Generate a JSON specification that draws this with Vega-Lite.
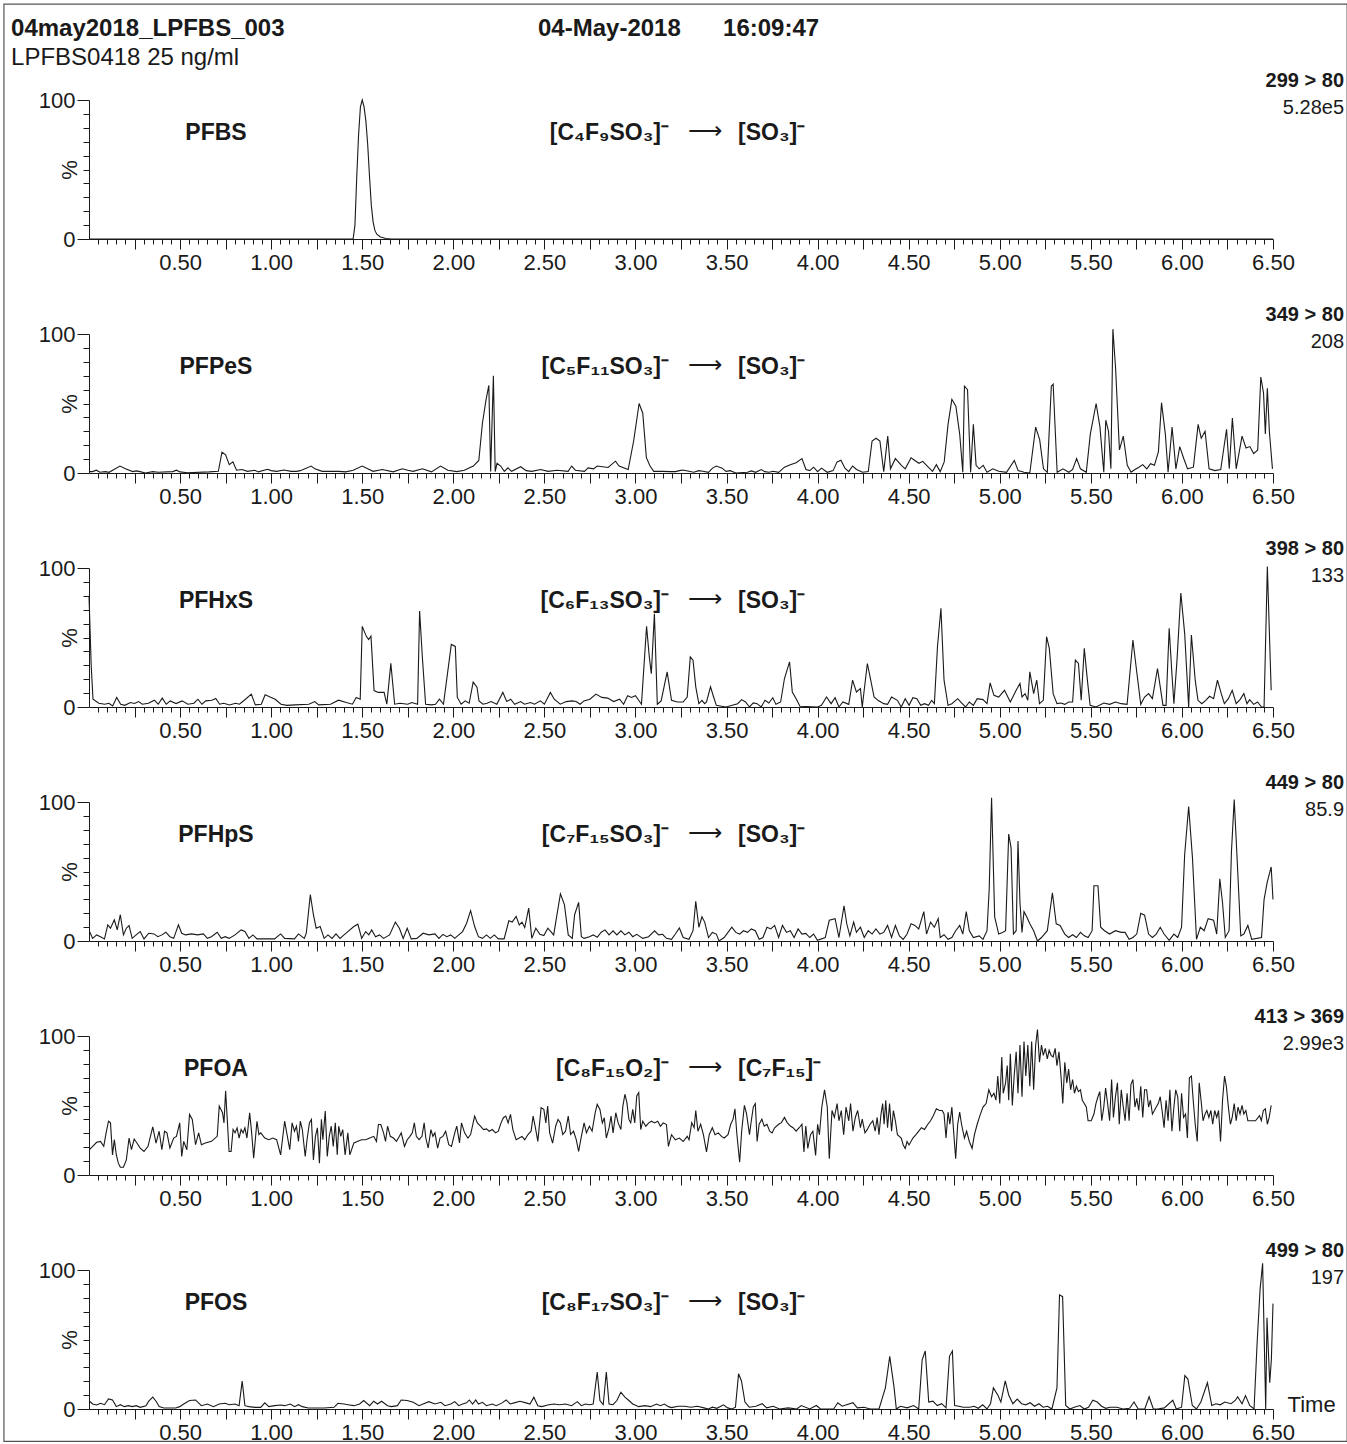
{
"$schema":"https://vega.github.io/schema/vega-lite/v6.json",
"padding":{"left":3,"top":3,"right":0,"bottom":0},
"background":"white",
"config":{"view":{"stroke":null},"axis":{"labelFont":"Liberation Sans","titleFont":"Liberation Sans"}},
"datasets":{"d":[
{"p":1,"name":"PFBS","formula":"[C₄F₉SO₃]⁻","product":"[SO₃]⁻","transition":"299 > 80","intensity":"5.28e5","hdr1":"04may2018_LPFBS_003","hdr2":"04-May-2018","hdr3":"16:09:47","hdr4":"LPFBS0418 25 ng/ml","border":1},
{"p":2,"name":"PFPeS","formula":"[C₅F₁₁SO₃]⁻","product":"[SO₃]⁻","transition":"349 > 80","intensity":"208"},
{"p":3,"name":"PFHxS","formula":"[C₆F₁₃SO₃]⁻","product":"[SO₃]⁻","transition":"398 > 80","intensity":"133"},
{"p":4,"name":"PFHpS","formula":"[C₇F₁₅SO₃]⁻","product":"[SO₃]⁻","transition":"449 > 80","intensity":"85.9"},
{"p":5,"name":"PFOA","formula":"[C₈F₁₅O₂]⁻","product":"[C₇F₁₅]⁻","transition":"413 > 369","intensity":"2.99e3"},
{"p":6,"name":"PFOS","formula":"[C₈F₁₇SO₃]⁻","product":"[SO₃]⁻","transition":"499 > 80","intensity":"197","xlab":"Time"},
{"p":1,"t":0,"v":0},{"p":1,"t":1.45,"v":0},{"p":1,"t":1.46,"v":10},{"p":1,"t":1.47,"v":45},{"p":1,"t":1.48,"v":75},{"p":1,"t":1.49,"v":95},{"p":1,"t":1.5,"v":100},{"p":1,"t":1.51,"v":95},{"p":1,"t":1.52,"v":85},{"p":1,"t":1.53,"v":68},{"p":1,"t":1.54,"v":45},{"p":1,"t":1.55,"v":24},{"p":1,"t":1.56,"v":12},{"p":1,"t":1.57,"v":6},{"p":1,"t":1.58,"v":3.5},{"p":1,"t":1.6,"v":1.5},{"p":1,"t":1.63,"v":0.4},{"p":1,"t":1.66,"v":0},{"p":1,"t":6.5,"v":0},
{"p":2,"t":0.005,"v":1},{"p":2,"t":0.02,"v":1},{"p":2,"t":0.04,"v":2},{"p":2,"t":0.06,"v":0.5},{"p":2,"t":0.09,"v":1},{"p":2,"t":0.11,"v":0.5},{"p":2,"t":0.13,"v":2},{"p":2,"t":0.17,"v":5},{"p":2,"t":0.2,"v":3},{"p":2,"t":0.24,"v":1},{"p":2,"t":0.26,"v":1.5},{"p":2,"t":0.28,"v":1},{"p":2,"t":0.31,"v":0},{"p":2,"t":0.35,"v":1},{"p":2,"t":0.38,"v":0.5},{"p":2,"t":0.46,"v":1},{"p":2,"t":0.48,"v":2},{"p":2,"t":0.5,"v":0.8},{"p":2,"t":0.54,"v":0.2},{"p":2,"t":0.66,"v":0.8},{"p":2,"t":0.71,"v":1.2},{"p":2,"t":0.73,"v":15},{"p":2,"t":0.75,"v":13},{"p":2,"t":0.77,"v":6},{"p":2,"t":0.79,"v":8},{"p":2,"t":0.81,"v":2},{"p":2,"t":0.84,"v":2.5},{"p":2,"t":0.87,"v":1.2},{"p":2,"t":0.91,"v":2},{"p":2,"t":0.93,"v":0.8},{"p":2,"t":0.98,"v":2.7},{"p":2,"t":1.0,"v":1.7},{"p":2,"t":1.03,"v":1.2},{"p":2,"t":1.07,"v":2.2},{"p":2,"t":1.11,"v":1.2},{"p":2,"t":1.14,"v":1.2},{"p":2,"t":1.16,"v":1.7},{"p":2,"t":1.22,"v":5},{"p":2,"t":1.24,"v":3},{"p":2,"t":1.28,"v":1.2},{"p":2,"t":1.37,"v":1.2},{"p":2,"t":1.41,"v":0.8},{"p":2,"t":1.45,"v":2},{"p":2,"t":1.5,"v":5},{"p":2,"t":1.53,"v":3},{"p":2,"t":1.56,"v":1.2},{"p":2,"t":1.61,"v":2.5},{"p":2,"t":1.67,"v":0.8},{"p":2,"t":1.72,"v":3},{"p":2,"t":1.75,"v":2},{"p":2,"t":1.78,"v":1.2},{"p":2,"t":1.83,"v":3},{"p":2,"t":1.88,"v":0.8},{"p":2,"t":1.93,"v":5},{"p":2,"t":1.97,"v":2},{"p":2,"t":2.02,"v":1},{"p":2,"t":2.06,"v":2},{"p":2,"t":2.11,"v":5},{"p":2,"t":2.14,"v":9},{"p":2,"t":2.16,"v":36},{"p":2,"t":2.18,"v":53},{"p":2,"t":2.195,"v":63},{"p":2,"t":2.205,"v":1},{"p":2,"t":2.22,"v":70},{"p":2,"t":2.23,"v":1},{"p":2,"t":2.24,"v":7},{"p":2,"t":2.26,"v":5},{"p":2,"t":2.28,"v":1.2},{"p":2,"t":2.3,"v":3.7},{"p":2,"t":2.32,"v":1.2},{"p":2,"t":2.37,"v":4.5},{"p":2,"t":2.4,"v":1.7},{"p":2,"t":2.43,"v":1.2},{"p":2,"t":2.48,"v":2.5},{"p":2,"t":2.52,"v":1.2},{"p":2,"t":2.57,"v":2},{"p":2,"t":2.63,"v":1.2},{"p":2,"t":2.65,"v":5},{"p":2,"t":2.67,"v":2},{"p":2,"t":2.72,"v":1.2},{"p":2,"t":2.74,"v":3.7},{"p":2,"t":2.77,"v":3},{"p":2,"t":2.79,"v":5},{"p":2,"t":2.82,"v":4.5},{"p":2,"t":2.85,"v":4},{"p":2,"t":2.89,"v":8.5},{"p":2,"t":2.91,"v":5},{"p":2,"t":2.96,"v":2.5},{"p":2,"t":2.99,"v":23},{"p":2,"t":3.02,"v":50},{"p":2,"t":3.04,"v":43},{"p":2,"t":3.06,"v":11},{"p":2,"t":3.08,"v":5},{"p":2,"t":3.1,"v":1.2},{"p":2,"t":3.15,"v":1.2},{"p":2,"t":3.19,"v":1},
{"p":2,"t":3.22,"v":1},{"p":2,"t":3.241,"v":1.7},{"p":2,"t":3.26,"v":2.2},{"p":2,"t":3.294,"v":1.2},{"p":2,"t":3.32,"v":0.5},{"p":2,"t":3.348,"v":1.7},{"p":2,"t":3.37,"v":1.2},{"p":2,"t":3.401,"v":0.5},{"p":2,"t":3.423,"v":3.5},{"p":2,"t":3.444,"v":5},{"p":2,"t":3.476,"v":3.5},{"p":2,"t":3.497,"v":1.2},{"p":2,"t":3.52,"v":1.7},{"p":2,"t":3.551,"v":0},{"p":2,"t":3.615,"v":0.5},{"p":2,"t":3.636,"v":1.5},{"p":2,"t":3.66,"v":0.5},{"p":2,"t":3.69,"v":2.5},{"p":2,"t":3.71,"v":1},{"p":2,"t":3.733,"v":0.5},{"p":2,"t":3.756,"v":1.2},{"p":2,"t":3.786,"v":0.5},{"p":2,"t":3.818,"v":4.2},{"p":2,"t":3.85,"v":6},{"p":2,"t":3.882,"v":7.4},{"p":2,"t":3.914,"v":10.4},{"p":2,"t":3.936,"v":2.5},{"p":2,"t":3.957,"v":1.7},{"p":2,"t":3.978,"v":4.2},{"p":2,"t":4.0,"v":1},{"p":2,"t":4.021,"v":3.5},{"p":2,"t":4.053,"v":0.5},{"p":2,"t":4.085,"v":1.7},{"p":2,"t":4.107,"v":8},{"p":2,"t":4.128,"v":9.2},{"p":2,"t":4.15,"v":3.5},{"p":2,"t":4.171,"v":1},{"p":2,"t":4.192,"v":5},{"p":2,"t":4.214,"v":2.5},{"p":2,"t":4.246,"v":0.5},{"p":2,"t":4.278,"v":1},{"p":2,"t":4.299,"v":23},{"p":2,"t":4.321,"v":25},{"p":2,"t":4.342,"v":23},{"p":2,"t":4.363,"v":1},{"p":2,"t":4.385,"v":26.5},{"p":2,"t":4.4,"v":3},{"p":2,"t":4.427,"v":10.4},{"p":2,"t":4.46,"v":5.5},{"p":2,"t":4.481,"v":3},{"p":2,"t":4.513,"v":11},{"p":2,"t":4.534,"v":9},{"p":2,"t":4.556,"v":7},{"p":2,"t":4.577,"v":8.4},{"p":2,"t":4.609,"v":4},{"p":2,"t":4.631,"v":1.2},{"p":2,"t":4.652,"v":6},{"p":2,"t":4.673,"v":1},{"p":2,"t":4.695,"v":8},{"p":2,"t":4.716,"v":35},{"p":2,"t":4.737,"v":53},{"p":2,"t":4.759,"v":48},{"p":2,"t":4.78,"v":28},{"p":2,"t":4.797,"v":0.5},{"p":2,"t":4.806,"v":62.5},{"p":2,"t":4.823,"v":60},{"p":2,"t":4.84,"v":0.5},{"p":2,"t":4.855,"v":35},{"p":2,"t":4.87,"v":5.5},{"p":2,"t":4.887,"v":3},{"p":2,"t":4.909,"v":5.5},{"p":2,"t":4.93,"v":0.5},{"p":2,"t":4.962,"v":3},{"p":2,"t":4.994,"v":1.2},{"p":2,"t":5.037,"v":0.5},{"p":2,"t":5.08,"v":9},{"p":2,"t":5.101,"v":1.7},{"p":2,"t":5.133,"v":0.5},{"p":2,"t":5.165,"v":0},{"p":2,"t":5.197,"v":33},{"p":2,"t":5.219,"v":24},{"p":2,"t":5.24,"v":3},{"p":2,"t":5.261,"v":0.5},{"p":2,"t":5.283,"v":62.5},{"p":2,"t":5.293,"v":64},{"p":2,"t":5.315,"v":0.5},{"p":2,"t":5.347,"v":3},{"p":2,"t":5.379,"v":0.5},{"p":2,"t":5.4,"v":2.5},{"p":2,"t":5.422,"v":10.4},{"p":2,"t":5.443,"v":3},{"p":2,"t":5.475,"v":0.5},{"p":2,"t":5.497,"v":28},{"p":2,"t":5.529,"v":50},{"p":2,"t":5.55,"v":33},{"p":2,"t":5.571,"v":0.5},{"p":2,"t":5.582,"v":38},{"p":2,"t":5.597,"v":30},{"p":2,"t":5.61,"v":3},{"p":2,"t":5.621,"v":103.5},{"p":2,"t":5.636,"v":75},{"p":2,"t":5.657,"v":16.6},{"p":2,"t":5.678,"v":26.5},{"p":2,"t":5.7,"v":5.5},{"p":2,"t":5.721,"v":0.5},{"p":2,"t":5.742,"v":2.5},{"p":2,"t":5.764,"v":4.2},{"p":2,"t":5.785,"v":6},{"p":2,"t":5.807,"v":3},{"p":2,"t":5.828,"v":6.7},{"p":2,"t":5.849,"v":5.5},{"p":2,"t":5.871,"v":15.4},{"p":2,"t":5.888,"v":50.6},{"p":2,"t":5.909,"v":28},{"p":2,"t":5.924,"v":0.5},{"p":2,"t":5.946,"v":33},{"p":2,"t":5.967,"v":3},{"p":2,"t":5.988,"v":19},{"p":2,"t":6.01,"v":10.4},{"p":2,"t":6.031,"v":3},{"p":2,"t":6.063,"v":4.2},{"p":2,"t":6.089,"v":35},{"p":2,"t":6.106,"v":25},{"p":2,"t":6.127,"v":30},{"p":2,"t":6.149,"v":3},{"p":2,"t":6.181,"v":1.7},{"p":2,"t":6.213,"v":2.5},{"p":2,"t":6.245,"v":31.5},{"p":2,"t":6.26,"v":3},{"p":2,"t":6.277,"v":39.5},{"p":2,"t":6.298,"v":3},{"p":2,"t":6.33,"v":26.5},{"p":2,"t":6.352,"v":18},{"p":2,"t":6.373,"v":19},{"p":2,"t":6.394,"v":14},{"p":2,"t":6.416,"v":16.6},{"p":2,"t":6.433,"v":69},{"p":2,"t":6.448,"v":57.6},{"p":2,"t":6.458,"v":28},{"p":2,"t":6.469,"v":61},{"p":2,"t":6.48,"v":30},{"p":2,"t":6.497,"v":3},
{"p":3,"t":0,"v":80},{"p":3,"t":0.012,"v":30},{"p":3,"t":0.022,"v":5.6},{"p":3,"t":0.054,"v":2.7},{"p":3,"t":0.087,"v":2},{"p":3,"t":0.109,"v":2.7},{"p":3,"t":0.13,"v":0.7},{"p":3,"t":0.152,"v":6.9},{"p":3,"t":0.174,"v":2},{"p":3,"t":0.196,"v":1.2},{"p":3,"t":0.228,"v":3.2},{"p":3,"t":0.25,"v":2.5},{"p":3,"t":0.272,"v":3.9},{"p":3,"t":0.293,"v":2},{"p":3,"t":0.326,"v":2.7},{"p":3,"t":0.359,"v":4.9},{"p":3,"t":0.38,"v":2},{"p":3,"t":0.402,"v":6.4},{"p":3,"t":0.424,"v":2},{"p":3,"t":0.446,"v":4.4},{"p":3,"t":0.478,"v":2.5},{"p":3,"t":0.511,"v":4.4},{"p":3,"t":0.543,"v":2},{"p":3,"t":0.576,"v":2.7},{"p":3,"t":0.598,"v":5.6},{"p":3,"t":0.62,"v":2},{"p":3,"t":0.641,"v":4.4},{"p":3,"t":0.674,"v":4.9},{"p":3,"t":0.696,"v":6.1},{"p":3,"t":0.717,"v":2},{"p":3,"t":0.739,"v":2.7},{"p":3,"t":0.772,"v":1.5},{"p":3,"t":0.804,"v":2.7},{"p":3,"t":0.826,"v":2},{"p":3,"t":0.859,"v":5.6},{"p":3,"t":0.891,"v":9.3},{"p":3,"t":0.913,"v":1.5},{"p":3,"t":0.946,"v":2},{"p":3,"t":0.967,"v":8.8},{"p":3,"t":1.0,"v":6.9},{"p":3,"t":1.022,"v":5.6},{"p":3,"t":1.054,"v":2},{"p":3,"t":1.087,"v":1.2},{"p":3,"t":1.13,"v":1.5},{"p":3,"t":1.207,"v":2},{"p":3,"t":1.239,"v":3.9},{"p":3,"t":1.261,"v":1.5},{"p":3,"t":1.326,"v":2},{"p":3,"t":1.37,"v":4.9},{"p":3,"t":1.413,"v":3.2},{"p":3,"t":1.446,"v":2},{"p":3,"t":1.467,"v":6.9},{"p":3,"t":1.489,"v":5.6},{"p":3,"t":1.5,"v":58},{"p":3,"t":1.522,"v":51},{"p":3,"t":1.535,"v":48.5},{"p":3,"t":1.548,"v":51},{"p":3,"t":1.565,"v":11.8},{"p":3,"t":1.587,"v":10.5},{"p":3,"t":1.62,"v":10.5},{"p":3,"t":1.635,"v":2},{"p":3,"t":1.657,"v":31.4},{"p":3,"t":1.678,"v":2},{"p":3,"t":1.707,"v":2.7},{"p":3,"t":1.75,"v":2},{"p":3,"t":1.772,"v":3.2},{"p":3,"t":1.804,"v":2},{"p":3,"t":1.815,"v":69},{"p":3,"t":1.83,"v":36},{"p":3,"t":1.848,"v":2},{"p":3,"t":1.88,"v":1.5},{"p":3,"t":1.902,"v":2},{"p":3,"t":1.924,"v":5.6},{"p":3,"t":1.946,"v":2},{"p":3,"t":1.989,"v":45},{"p":3,"t":2.011,"v":43.6},{"p":3,"t":2.022,"v":6.9},{"p":3,"t":2.043,"v":2},{"p":3,"t":2.065,"v":4.4},{"p":3,"t":2.087,"v":2.7},{"p":3,"t":2.109,"v":17.9},{"p":3,"t":2.13,"v":14.2},{"p":3,"t":2.141,"v":4.4},{"p":3,"t":2.163,"v":2},{"p":3,"t":2.185,"v":2.7},{"p":3,"t":2.207,"v":3.9},{"p":3,"t":2.239,"v":2},{"p":3,"t":2.272,"v":10.5},{"p":3,"t":2.293,"v":3.9},{"p":3,"t":2.315,"v":5.6},{"p":3,"t":2.337,"v":2},{"p":3,"t":2.37,"v":3.9},{"p":3,"t":2.391,"v":2},{"p":3,"t":2.424,"v":3.2},{"p":3,"t":2.446,"v":2},{"p":3,"t":2.478,"v":4.4},{"p":3,"t":2.5,"v":2},{"p":3,"t":2.533,"v":10.5},{"p":3,"t":2.554,"v":5.6},{"p":3,"t":2.587,"v":2},{"p":3,"t":2.62,"v":3.9},{"p":3,"t":2.652,"v":4.4},{"p":3,"t":2.674,"v":3.9},{"p":3,"t":2.696,"v":2},{"p":3,"t":2.717,"v":4.4},{"p":3,"t":2.75,"v":5.6},{"p":3,"t":2.783,"v":9.3},{"p":3,"t":2.815,"v":6.9},{"p":3,"t":2.848,"v":6.4},{"p":3,"t":2.88,"v":3.9},{"p":3,"t":2.913,"v":5.6},{"p":3,"t":2.935,"v":2},{"p":3,"t":2.957,"v":8.1},{"p":3,"t":2.978,"v":6.9},{"p":3,"t":3.0,"v":8.1},{"p":3,"t":3.033,"v":2},{"p":3,"t":3.061,"v":58},{"p":3,"t":3.076,"v":36},{"p":3,"t":3.087,"v":24},{"p":3,"t":3.104,"v":67},{"p":3,"t":3.12,"v":2},{"p":3,"t":3.141,"v":4.4},{"p":3,"t":3.174,"v":25.2},
{"p":3,"t":3.198,"v":4.8},{"p":3,"t":3.23,"v":3.6},{"p":3,"t":3.262,"v":3.6},{"p":3,"t":3.284,"v":7.2},{"p":3,"t":3.301,"v":36},{"p":3,"t":3.316,"v":33.7},{"p":3,"t":3.331,"v":14.5},{"p":3,"t":3.348,"v":2.4},{"p":3,"t":3.365,"v":4.8},{"p":3,"t":3.38,"v":2.4},{"p":3,"t":3.39,"v":3.6},{"p":3,"t":3.412,"v":14.5},{"p":3,"t":3.429,"v":7.2},{"p":3,"t":3.444,"v":1.2},{"p":3,"t":3.465,"v":0.7},{"p":3,"t":3.497,"v":0},{"p":3,"t":3.561,"v":2.4},{"p":3,"t":3.583,"v":5.3},{"p":3,"t":3.604,"v":3.6},{"p":3,"t":3.626,"v":0},{"p":3,"t":3.647,"v":2.9},{"p":3,"t":3.668,"v":2.4},{"p":3,"t":3.69,"v":0},{"p":3,"t":3.711,"v":4.8},{"p":3,"t":3.732,"v":2.9},{"p":3,"t":3.754,"v":6.7},{"p":3,"t":3.771,"v":1.9},{"p":3,"t":3.797,"v":3.6},{"p":3,"t":3.818,"v":20.5},{"p":3,"t":3.846,"v":32.5},{"p":3,"t":3.861,"v":10.8},{"p":3,"t":3.882,"v":6},{"p":3,"t":3.903,"v":0.5},{"p":3,"t":4.0,"v":0},{"p":3,"t":4.021,"v":1.2},{"p":3,"t":4.049,"v":7.2},{"p":3,"t":4.074,"v":2.4},{"p":3,"t":4.096,"v":6.7},{"p":3,"t":4.117,"v":0},{"p":3,"t":4.139,"v":3.6},{"p":3,"t":4.171,"v":1.9},{"p":3,"t":4.192,"v":19.3},{"p":3,"t":4.213,"v":10.8},{"p":3,"t":4.235,"v":13.3},{"p":3,"t":4.245,"v":0},{"p":3,"t":4.273,"v":31.3},{"p":3,"t":4.288,"v":21.7},{"p":3,"t":4.31,"v":7.2},{"p":3,"t":4.331,"v":4.8},{"p":3,"t":4.363,"v":2.4},{"p":3,"t":4.384,"v":1.9},{"p":3,"t":4.406,"v":7.2},{"p":3,"t":4.438,"v":4.8},{"p":3,"t":4.459,"v":0},{"p":3,"t":4.481,"v":6},{"p":3,"t":4.502,"v":1.2},{"p":3,"t":4.523,"v":6.7},{"p":3,"t":4.545,"v":6},{"p":3,"t":4.566,"v":1.2},{"p":3,"t":4.587,"v":2.4},{"p":3,"t":4.609,"v":1.2},{"p":3,"t":4.626,"v":4.8},{"p":3,"t":4.641,"v":2.4},{"p":3,"t":4.658,"v":43.4},{"p":3,"t":4.677,"v":71},{"p":3,"t":4.694,"v":19.3},{"p":3,"t":4.716,"v":1.2},{"p":3,"t":4.737,"v":2.4},{"p":3,"t":4.769,"v":6},{"p":3,"t":4.79,"v":2.9},{"p":3,"t":4.812,"v":0},{"p":3,"t":4.833,"v":3.6},{"p":3,"t":4.855,"v":1.2},{"p":3,"t":4.876,"v":6},{"p":3,"t":4.908,"v":5.3},{"p":3,"t":4.93,"v":2.4},{"p":3,"t":4.947,"v":17.3},{"p":3,"t":4.968,"v":8.4},{"p":3,"t":4.994,"v":7.2},{"p":3,"t":5.026,"v":12},{"p":3,"t":5.058,"v":3.6},{"p":3,"t":5.09,"v":12},{"p":3,"t":5.111,"v":16.9},{"p":3,"t":5.122,"v":7.2},{"p":3,"t":5.139,"v":9.6},{"p":3,"t":5.154,"v":4.8},{"p":3,"t":5.165,"v":25.3},{"p":3,"t":5.186,"v":9.6},{"p":3,"t":5.203,"v":19.3},{"p":3,"t":5.218,"v":2.4},{"p":3,"t":5.239,"v":4.8},{"p":3,"t":5.257,"v":50.6},{"p":3,"t":5.272,"v":42.2},{"p":3,"t":5.293,"v":9.6},{"p":3,"t":5.314,"v":2.4},{"p":3,"t":5.336,"v":2.9},{"p":3,"t":5.357,"v":1.9},{"p":3,"t":5.378,"v":3.6},{"p":3,"t":5.4,"v":3.6},{"p":3,"t":5.415,"v":33.7},{"p":3,"t":5.432,"v":31.3},{"p":3,"t":5.447,"v":4.8},{"p":3,"t":5.464,"v":42.2},{"p":3,"t":5.481,"v":19.3},{"p":3,"t":5.496,"v":1.2},{"p":3,"t":5.528,"v":0},{"p":3,"t":5.571,"v":2.9},{"p":3,"t":5.603,"v":1.9},{"p":3,"t":5.635,"v":3.6},{"p":3,"t":5.667,"v":2.4},{"p":3,"t":5.699,"v":1.9},{"p":3,"t":5.731,"v":48.2},{"p":3,"t":5.753,"v":24.1},{"p":3,"t":5.774,"v":1.9},{"p":3,"t":5.795,"v":7.2},{"p":3,"t":5.817,"v":9.6},{"p":3,"t":5.838,"v":6},{"p":3,"t":5.866,"v":27.7},{"p":3,"t":5.881,"v":14.5},{"p":3,"t":5.896,"v":1.2},{"p":3,"t":5.913,"v":1.2},{"p":3,"t":5.93,"v":56.6},{"p":3,"t":5.945,"v":24.1},{"p":3,"t":5.956,"v":2.4},{"p":3,"t":5.973,"v":33.7},{"p":3,"t":5.994,"v":82},{"p":3,"t":6.015,"v":53},{"p":3,"t":6.037,"v":0},{"p":3,"t":6.052,"v":51.8},{"p":3,"t":6.073,"v":19.3},{"p":3,"t":6.088,"v":4.8},{"p":3,"t":6.109,"v":2.4},{"p":3,"t":6.131,"v":4.8},{"p":3,"t":6.152,"v":7.7},{"p":3,"t":6.174,"v":6},{"p":3,"t":6.195,"v":19.3},{"p":3,"t":6.216,"v":9.6},{"p":3,"t":6.233,"v":2.4},{"p":3,"t":6.255,"v":6},{"p":3,"t":6.276,"v":12},{"p":3,"t":6.298,"v":2.4},{"p":3,"t":6.319,"v":5.3},{"p":3,"t":6.34,"v":9.6},{"p":3,"t":6.357,"v":2.4},{"p":3,"t":6.372,"v":5.3},{"p":3,"t":6.394,"v":1.9},{"p":3,"t":6.415,"v":3.6},{"p":3,"t":6.437,"v":0},{"p":3,"t":6.451,"v":0},{"p":3,"t":6.469,"v":101},{"p":3,"t":6.49,"v":12},
{"p":4,"t":0.003,"v":6.8},{"p":4,"t":0.02,"v":1.9},{"p":4,"t":0.042,"v":4.4},{"p":4,"t":0.063,"v":3.1},{"p":4,"t":0.085,"v":1.5},{"p":4,"t":0.103,"v":11.6},{"p":4,"t":0.118,"v":9.2},{"p":4,"t":0.139,"v":15.3},{"p":4,"t":0.155,"v":8},{"p":4,"t":0.172,"v":18.9},{"p":4,"t":0.189,"v":4.4},{"p":4,"t":0.205,"v":9.2},{"p":4,"t":0.22,"v":11.1},{"p":4,"t":0.237,"v":1.9},{"p":4,"t":0.259,"v":4.4},{"p":4,"t":0.281,"v":6.8},{"p":4,"t":0.302,"v":1.5},{"p":4,"t":0.328,"v":5.6},{"p":4,"t":0.357,"v":5.1},{"p":4,"t":0.378,"v":3.1},{"p":4,"t":0.4,"v":4.4},{"p":4,"t":0.422,"v":6.3},{"p":4,"t":0.444,"v":3.1},{"p":4,"t":0.465,"v":1.9},{"p":4,"t":0.491,"v":11.6},{"p":4,"t":0.509,"v":5.6},{"p":4,"t":0.53,"v":4.4},{"p":4,"t":0.563,"v":5.1},{"p":4,"t":0.596,"v":4.4},{"p":4,"t":0.628,"v":5.1},{"p":4,"t":0.65,"v":1.9},{"p":4,"t":0.672,"v":3.1},{"p":4,"t":0.704,"v":6.3},{"p":4,"t":0.726,"v":1.9},{"p":4,"t":0.748,"v":3.1},{"p":4,"t":0.769,"v":1.9},{"p":4,"t":0.802,"v":4.4},{"p":4,"t":0.835,"v":8},{"p":4,"t":0.856,"v":6.8},{"p":4,"t":0.878,"v":1.9},{"p":4,"t":0.9,"v":4.4},{"p":4,"t":0.922,"v":1.5},{"p":4,"t":0.976,"v":1.5},{"p":4,"t":1.019,"v":1.5},{"p":4,"t":1.052,"v":5.1},{"p":4,"t":1.074,"v":1.9},{"p":4,"t":1.128,"v":1.5},{"p":4,"t":1.15,"v":5.1},{"p":4,"t":1.182,"v":1.9},{"p":4,"t":1.193,"v":5.6},{"p":4,"t":1.215,"v":33.4},{"p":4,"t":1.232,"v":18.9},{"p":4,"t":1.247,"v":9.2},{"p":4,"t":1.269,"v":10.4},{"p":4,"t":1.291,"v":1.9},{"p":4,"t":1.312,"v":4.4},{"p":4,"t":1.334,"v":1.9},{"p":4,"t":1.356,"v":5.1},{"p":4,"t":1.378,"v":1.9},{"p":4,"t":1.4,"v":4.4},{"p":4,"t":1.421,"v":6.8},{"p":4,"t":1.454,"v":10.4},{"p":4,"t":1.476,"v":12.1},{"p":4,"t":1.497,"v":1.9},{"p":4,"t":1.519,"v":6.8},{"p":4,"t":1.536,"v":4.4},{"p":4,"t":1.552,"v":8},{"p":4,"t":1.573,"v":3.1},{"p":4,"t":1.595,"v":4.4},{"p":4,"t":1.617,"v":1.9},{"p":4,"t":1.65,"v":4.4},{"p":4,"t":1.682,"v":13.6},{"p":4,"t":1.704,"v":9.2},{"p":4,"t":1.725,"v":1.9},{"p":4,"t":1.747,"v":9.2},{"p":4,"t":1.769,"v":1.5},{"p":4,"t":1.8,"v":1.9},{"p":4,"t":1.834,"v":5.6},{"p":4,"t":1.866,"v":4.4},{"p":4,"t":1.899,"v":5.1},{"p":4,"t":1.921,"v":1.9},{"p":4,"t":1.943,"v":4.8},{"p":4,"t":1.964,"v":3.1},{"p":4,"t":1.986,"v":4.4},{"p":4,"t":2.008,"v":1.9},{"p":4,"t":2.03,"v":4.4},{"p":4,"t":2.051,"v":6.8},{"p":4,"t":2.073,"v":12.8},{"p":4,"t":2.095,"v":21.8},{"p":4,"t":2.117,"v":10.4},{"p":4,"t":2.138,"v":3.1},{"p":4,"t":2.16,"v":1.9},{"p":4,"t":2.182,"v":4.4},{"p":4,"t":2.203,"v":1.9},{"p":4,"t":2.225,"v":4.4},{"p":4,"t":2.247,"v":1.5},{"p":4,"t":2.279,"v":1.5},{"p":4,"t":2.305,"v":14.5},{"p":4,"t":2.323,"v":13.6},{"p":4,"t":2.345,"v":17.7},{"p":4,"t":2.362,"v":11.6},{"p":4,"t":2.377,"v":13.6},{"p":4,"t":2.392,"v":9.7},{"p":4,"t":2.414,"v":23.7},{"p":4,"t":2.431,"v":1.9},{"p":4,"t":2.453,"v":9.2},{"p":4,"t":2.475,"v":4.8},{"p":4,"t":2.497,"v":3.9},{"p":4,"t":2.519,"v":9.2},{"p":4,"t":2.551,"v":4.4},{"p":4,"t":2.566,"v":16.5},{"p":4,"t":2.588,"v":33.9},{"p":4,"t":2.61,"v":26.2},{"p":4,"t":2.631,"v":4.4},{"p":4,"t":2.653,"v":1.9},{"p":4,"t":2.666,"v":18.9},{"p":4,"t":2.688,"v":27.8},{"p":4,"t":2.703,"v":3.1},{"p":4,"t":2.718,"v":1.9},{"p":4,"t":2.747,"v":3.1},{"p":4,"t":2.768,"v":4.4},{"p":4,"t":2.79,"v":2.7},{"p":4,"t":2.812,"v":6.3},{"p":4,"t":2.833,"v":8},{"p":4,"t":2.855,"v":4.4},{"p":4,"t":2.877,"v":7.3},{"p":4,"t":2.898,"v":4.4},{"p":4,"t":2.92,"v":7.3},{"p":4,"t":2.942,"v":4.4},{"p":4,"t":2.964,"v":6.3},{"p":4,"t":2.985,"v":3.1},{"p":4,"t":3.007,"v":4.8},{"p":4,"t":3.04,"v":1.9},{"p":4,"t":3.072,"v":3.1},{"p":4,"t":3.105,"v":7.3},{"p":4,"t":3.127,"v":4.4},{"p":4,"t":3.149,"v":4.8},{"p":4,"t":3.17,"v":1.9},
{"p":4,"t":3.198,"v":1.2},{"p":4,"t":3.219,"v":5},{"p":4,"t":3.241,"v":9.4},{"p":4,"t":3.262,"v":2.5},{"p":4,"t":3.294,"v":1.2},{"p":4,"t":3.316,"v":7.4},{"p":4,"t":3.331,"v":28.5},{"p":4,"t":3.348,"v":9.9},{"p":4,"t":3.365,"v":17.4},{"p":4,"t":3.38,"v":13.6},{"p":4,"t":3.401,"v":2.5},{"p":4,"t":3.422,"v":6.2},{"p":4,"t":3.444,"v":5},{"p":4,"t":3.459,"v":0},{"p":4,"t":3.487,"v":2.5},{"p":4,"t":3.508,"v":6.2},{"p":4,"t":3.529,"v":9.9},{"p":4,"t":3.551,"v":6.2},{"p":4,"t":3.572,"v":5},{"p":4,"t":3.593,"v":7.4},{"p":4,"t":3.615,"v":6.2},{"p":4,"t":3.636,"v":8.7},{"p":4,"t":3.658,"v":7.4},{"p":4,"t":3.679,"v":1.2},{"p":4,"t":3.7,"v":2.5},{"p":4,"t":3.722,"v":9.9},{"p":4,"t":3.743,"v":8.7},{"p":4,"t":3.764,"v":11.2},{"p":4,"t":3.786,"v":2.5},{"p":4,"t":3.807,"v":11.2},{"p":4,"t":3.829,"v":6.2},{"p":4,"t":3.85,"v":7.4},{"p":4,"t":3.871,"v":2.5},{"p":4,"t":3.893,"v":8.7},{"p":4,"t":3.914,"v":5},{"p":4,"t":3.935,"v":5.5},{"p":4,"t":3.957,"v":2.5},{"p":4,"t":3.978,"v":5},{"p":4,"t":3.999,"v":0.5},{"p":4,"t":4.042,"v":2.5},{"p":4,"t":4.064,"v":14.9},{"p":4,"t":4.096,"v":16.1},{"p":4,"t":4.117,"v":2.5},{"p":4,"t":4.145,"v":25.3},{"p":4,"t":4.16,"v":12.4},{"p":4,"t":4.177,"v":3.7},{"p":4,"t":4.198,"v":13.6},{"p":4,"t":4.213,"v":6.2},{"p":4,"t":4.235,"v":9.9},{"p":4,"t":4.256,"v":2.5},{"p":4,"t":4.278,"v":7.4},{"p":4,"t":4.299,"v":5},{"p":4,"t":4.32,"v":8.7},{"p":4,"t":4.342,"v":5},{"p":4,"t":4.363,"v":6.2},{"p":4,"t":4.384,"v":11.2},{"p":4,"t":4.406,"v":2.5},{"p":4,"t":4.427,"v":11.2},{"p":4,"t":4.449,"v":3.7},{"p":4,"t":4.47,"v":1.2},{"p":4,"t":4.491,"v":5},{"p":4,"t":4.513,"v":12.4},{"p":4,"t":4.534,"v":11.2},{"p":4,"t":4.555,"v":8.7},{"p":4,"t":4.583,"v":21.1},{"p":4,"t":4.598,"v":5},{"p":4,"t":4.62,"v":13.6},{"p":4,"t":4.641,"v":9.9},{"p":4,"t":4.662,"v":16.1},{"p":4,"t":4.673,"v":2.5},{"p":4,"t":4.694,"v":4.5},{"p":4,"t":4.716,"v":1.2},{"p":4,"t":4.737,"v":2.5},{"p":4,"t":4.758,"v":7.4},{"p":4,"t":4.78,"v":11.2},{"p":4,"t":4.797,"v":5},{"p":4,"t":4.816,"v":21.1},{"p":4,"t":4.833,"v":7.4},{"p":4,"t":4.855,"v":2.5},{"p":4,"t":4.887,"v":3.7},{"p":4,"t":4.908,"v":1.2},{"p":4,"t":4.93,"v":7.4},{"p":4,"t":4.942,"v":37.2},{"p":4,"t":4.955,"v":103},{"p":4,"t":4.972,"v":17.4},{"p":4,"t":4.994,"v":5},{"p":4,"t":5.015,"v":6.2},{"p":4,"t":5.032,"v":7.4},{"p":4,"t":5.049,"v":76.9},{"p":4,"t":5.062,"v":67},{"p":4,"t":5.075,"v":5},{"p":4,"t":5.09,"v":7.4},{"p":4,"t":5.1,"v":72},{"p":4,"t":5.111,"v":27.3},{"p":4,"t":5.122,"v":6.2},{"p":4,"t":5.133,"v":21.1},{"p":4,"t":5.148,"v":17.4},{"p":4,"t":5.165,"v":12.4},{"p":4,"t":5.186,"v":7.4},{"p":4,"t":5.207,"v":0},{"p":4,"t":5.229,"v":2.5},{"p":4,"t":5.261,"v":7.4},{"p":4,"t":5.289,"v":34.7},{"p":4,"t":5.31,"v":12.4},{"p":4,"t":5.331,"v":11.2},{"p":4,"t":5.357,"v":5},{"p":4,"t":5.378,"v":2.5},{"p":4,"t":5.4,"v":4.5},{"p":4,"t":5.421,"v":2.5},{"p":4,"t":5.443,"v":6.2},{"p":4,"t":5.464,"v":3.7},{"p":4,"t":5.485,"v":2.5},{"p":4,"t":5.507,"v":7.4},{"p":4,"t":5.517,"v":39.7},{"p":4,"t":5.539,"v":39.7},{"p":4,"t":5.554,"v":9.9},{"p":4,"t":5.575,"v":7.4},{"p":4,"t":5.603,"v":5},{"p":4,"t":5.635,"v":7.4},{"p":4,"t":5.667,"v":6.2},{"p":4,"t":5.688,"v":6.2},{"p":4,"t":5.71,"v":1.2},{"p":4,"t":5.731,"v":2.5},{"p":4,"t":5.752,"v":5},{"p":4,"t":5.774,"v":19.9},{"p":4,"t":5.795,"v":18.6},{"p":4,"t":5.817,"v":5},{"p":4,"t":5.838,"v":2.5},{"p":4,"t":5.859,"v":5},{"p":4,"t":5.881,"v":9.9},{"p":4,"t":5.902,"v":5},{"p":4,"t":5.93,"v":0.5},{"p":4,"t":5.956,"v":5},{"p":4,"t":5.977,"v":2.5},{"p":4,"t":5.998,"v":9.9},{"p":4,"t":6.015,"v":62},{"p":4,"t":6.037,"v":96.8},{"p":4,"t":6.058,"v":59.6},{"p":4,"t":6.08,"v":1.2},{"p":4,"t":6.101,"v":9.9},{"p":4,"t":6.122,"v":7.4},{"p":4,"t":6.144,"v":16.1},{"p":4,"t":6.174,"v":14.9},{"p":4,"t":6.191,"v":5},{"p":4,"t":6.208,"v":44.7},{"p":4,"t":6.223,"v":27.3},{"p":4,"t":6.238,"v":2.5},{"p":4,"t":6.259,"v":7.4},{"p":4,"t":6.272,"v":64.5},{"p":4,"t":6.287,"v":101.7},{"p":4,"t":6.302,"v":62},{"p":4,"t":6.323,"v":3.7},{"p":4,"t":6.34,"v":5},{"p":4,"t":6.362,"v":11.2},{"p":4,"t":6.383,"v":1.2},{"p":4,"t":6.437,"v":2.5},{"p":4,"t":6.451,"v":29.8},{"p":4,"t":6.468,"v":42.2},{"p":4,"t":6.49,"v":53.3},{"p":4,"t":6.5,"v":29.8},
{"p":5,"t":0.003,"v":18.2},{"p":5,"t":0.02,"v":20.6},{"p":5,"t":0.042,"v":23.5},{"p":5,"t":0.063,"v":24.2},{"p":5,"t":0.081,"v":20.6},{"p":5,"t":0.094,"v":30.3},{"p":5,"t":0.107,"v":38.7},{"p":5,"t":0.118,"v":37.5},{"p":5,"t":0.129,"v":14.5},{"p":5,"t":0.139,"v":25.4},{"p":5,"t":0.15,"v":14.5},{"p":5,"t":0.161,"v":8.5},{"p":5,"t":0.172,"v":5.6},{"p":5,"t":0.189,"v":5.6},{"p":5,"t":0.205,"v":10.9},{"p":5,"t":0.22,"v":26.6},{"p":5,"t":0.233,"v":18.2},{"p":5,"t":0.248,"v":25.9},{"p":5,"t":0.263,"v":23},{"p":5,"t":0.281,"v":19.4},{"p":5,"t":0.302,"v":16.9},{"p":5,"t":0.324,"v":20.6},{"p":5,"t":0.35,"v":34.6},{"p":5,"t":0.368,"v":23},{"p":5,"t":0.385,"v":31.5},{"p":5,"t":0.4,"v":18.2},{"p":5,"t":0.415,"v":31.5},{"p":5,"t":0.428,"v":30.3},{"p":5,"t":0.444,"v":19.4},{"p":5,"t":0.465,"v":26.6},{"p":5,"t":0.48,"v":27.8},{"p":5,"t":0.498,"v":37.5},{"p":5,"t":0.509,"v":13.3},{"p":5,"t":0.52,"v":24.2},{"p":5,"t":0.537,"v":18.2},{"p":5,"t":0.552,"v":43.6},{"p":5,"t":0.567,"v":40},{"p":5,"t":0.585,"v":21.8},{"p":5,"t":0.602,"v":30.3},{"p":5,"t":0.617,"v":21.8},{"p":5,"t":0.639,"v":23},{"p":5,"t":0.672,"v":24.2},{"p":5,"t":0.704,"v":27.8},{"p":5,"t":0.715,"v":49.6},{"p":5,"t":0.733,"v":44.8},{"p":5,"t":0.741,"v":37.5},{"p":5,"t":0.75,"v":60.5},{"p":5,"t":0.759,"v":40},{"p":5,"t":0.769,"v":16.9},{"p":5,"t":0.78,"v":16.9},{"p":5,"t":0.791,"v":32.7},{"p":5,"t":0.802,"v":30.3},{"p":5,"t":0.813,"v":33.9},{"p":5,"t":0.824,"v":26.6},{"p":5,"t":0.835,"v":32.7},{"p":5,"t":0.846,"v":30.3},{"p":5,"t":0.856,"v":33.9},{"p":5,"t":0.867,"v":26.6},{"p":5,"t":0.882,"v":44.8},{"p":5,"t":0.893,"v":30.3},{"p":5,"t":0.904,"v":12.1},{"p":5,"t":0.922,"v":38.7},{"p":5,"t":0.933,"v":29.1},{"p":5,"t":0.943,"v":30.3},{"p":5,"t":0.965,"v":26.6},{"p":5,"t":0.987,"v":25.4},{"p":5,"t":1.009,"v":26.6},{"p":5,"t":1.03,"v":25.4},{"p":5,"t":1.052,"v":14.5},{"p":5,"t":1.074,"v":38.7},{"p":5,"t":1.089,"v":27.8},{"p":5,"t":1.102,"v":18.2},{"p":5,"t":1.115,"v":37.5},{"p":5,"t":1.128,"v":31.5},{"p":5,"t":1.139,"v":35.1},{"p":5,"t":1.15,"v":24.2},{"p":5,"t":1.16,"v":38.7},{"p":5,"t":1.171,"v":32.7},{"p":5,"t":1.187,"v":13.3},{"p":5,"t":1.197,"v":25.4},{"p":5,"t":1.21,"v":37.5},{"p":5,"t":1.221,"v":40},{"p":5,"t":1.232,"v":10.9},{"p":5,"t":1.243,"v":27.8},{"p":5,"t":1.254,"v":33.9},{"p":5,"t":1.265,"v":8.5},{"p":5,"t":1.276,"v":40},{"p":5,"t":1.284,"v":25.4},{"p":5,"t":1.297,"v":46},{"p":5,"t":1.308,"v":13.3},{"p":5,"t":1.319,"v":27.8},{"p":5,"t":1.33,"v":35.1},{"p":5,"t":1.341,"v":20.6},{"p":5,"t":1.352,"v":37.5},{"p":5,"t":1.363,"v":14.5},{"p":5,"t":1.371,"v":35.1},{"p":5,"t":1.382,"v":27.8},{"p":5,"t":1.393,"v":32.7},{"p":5,"t":1.406,"v":14.5},{"p":5,"t":1.421,"v":30.3},{"p":5,"t":1.432,"v":14.5},{"p":5,"t":1.454,"v":23},{"p":5,"t":1.476,"v":24.2},{"p":5,"t":1.497,"v":25.4},{"p":5,"t":1.519,"v":25.4},{"p":5,"t":1.541,"v":26.6},{"p":5,"t":1.563,"v":27.8},{"p":5,"t":1.578,"v":24.2},{"p":5,"t":1.589,"v":36.3},{"p":5,"t":1.602,"v":36.3},{"p":5,"t":1.617,"v":30.3},{"p":5,"t":1.628,"v":24.2},{"p":5,"t":1.639,"v":35.1},{"p":5,"t":1.654,"v":27.8},{"p":5,"t":1.671,"v":26.6},{"p":5,"t":1.688,"v":24.2},{"p":5,"t":1.704,"v":27.8},{"p":5,"t":1.714,"v":30.3},{"p":5,"t":1.732,"v":20.6},{"p":5,"t":1.747,"v":25.4},{"p":5,"t":1.762,"v":27.8},{"p":5,"t":1.775,"v":30.3},{"p":5,"t":1.786,"v":37.5},{"p":5,"t":1.797,"v":27.8},{"p":5,"t":1.812,"v":25.4},{"p":5,"t":1.828,"v":27.8},{"p":5,"t":1.84,"v":37.5},{"p":5,"t":1.849,"v":26.6},{"p":5,"t":1.862,"v":19.4},{"p":5,"t":1.877,"v":32.7},{"p":5,"t":1.888,"v":27.8},{"p":5,"t":1.899,"v":30.3},{"p":5,"t":1.914,"v":19.4},{"p":5,"t":1.927,"v":26.6},{"p":5,"t":1.943,"v":27.8},{"p":5,"t":1.958,"v":31.5},{"p":5,"t":1.975,"v":21.8},{"p":5,"t":1.99,"v":20.6},{"p":5,"t":2.008,"v":30.3},{"p":5,"t":2.019,"v":35.1},{"p":5,"t":2.034,"v":23},{"p":5,"t":2.045,"v":37.5},{"p":5,"t":2.062,"v":30.3},{"p":5,"t":2.08,"v":26.6},{"p":5,"t":2.095,"v":29.1},{"p":5,"t":2.117,"v":42.4},{"p":5,"t":2.132,"v":37.5},{"p":5,"t":2.149,"v":35.1},{"p":5,"t":2.166,"v":32.7},{"p":5,"t":2.182,"v":33.2},{"p":5,"t":2.197,"v":31.5},{"p":5,"t":2.214,"v":32.7},{"p":5,"t":2.232,"v":30.3},{"p":5,"t":2.247,"v":31.5},{"p":5,"t":2.262,"v":37.5},{"p":5,"t":2.275,"v":41.2},{"p":5,"t":2.288,"v":42.4},{"p":5,"t":2.301,"v":37.5},{"p":5,"t":2.314,"v":43.6},{"p":5,"t":2.327,"v":32.7},{"p":5,"t":2.345,"v":25.4},{"p":5,"t":2.362,"v":26.6},{"p":5,"t":2.377,"v":27.8},{"p":5,"t":2.392,"v":25.4},{"p":5,"t":2.41,"v":29.1},{"p":5,"t":2.427,"v":31.5},{"p":5,"t":2.438,"v":42.4},{"p":5,"t":2.449,"v":35.1},{"p":5,"t":2.464,"v":24.2},{"p":5,"t":2.482,"v":48.4},{"p":5,"t":2.497,"v":47.2},{"p":5,"t":2.508,"v":37.5},{"p":5,"t":2.518,"v":49.6},{"p":5,"t":2.529,"v":30.3},{"p":5,"t":2.545,"v":23},{"p":5,"t":2.562,"v":35.1},{"p":5,"t":2.575,"v":40},{"p":5,"t":2.588,"v":37.5},{"p":5,"t":2.601,"v":29.1},{"p":5,"t":2.616,"v":31.5},{"p":5,"t":2.631,"v":42.4},{"p":5,"t":2.644,"v":29.1},{"p":5,"t":2.66,"v":31.5},{"p":5,"t":2.675,"v":25.4},{"p":5,"t":2.688,"v":16.9},{"p":5,"t":2.703,"v":27.8},{"p":5,"t":2.718,"v":37.5},{"p":5,"t":2.731,"v":30.3},{"p":5,"t":2.747,"v":35.1},{"p":5,"t":2.762,"v":31.5},{"p":5,"t":2.779,"v":44.8},{"p":5,"t":2.79,"v":50.8},{"p":5,"t":2.805,"v":47.2},{"p":5,"t":2.818,"v":37.5},{"p":5,"t":2.829,"v":41.2},{"p":5,"t":2.84,"v":26.6},{"p":5,"t":2.855,"v":33.9},{"p":5,"t":2.866,"v":42.4},{"p":5,"t":2.877,"v":30.3},{"p":5,"t":2.892,"v":44.8},{"p":5,"t":2.905,"v":37.5},{"p":5,"t":2.92,"v":32.7},{"p":5,"t":2.931,"v":49.6},{"p":5,"t":2.942,"v":58.1},{"p":5,"t":2.953,"v":52.1},{"p":5,"t":2.964,"v":40},{"p":5,"t":2.974,"v":37.5},{"p":5,"t":2.985,"v":47.2},{"p":5,"t":2.996,"v":37.5},{"p":5,"t":3.007,"v":56.9},{"p":5,"t":3.018,"v":59.3},{"p":5,"t":3.029,"v":32.7},{"p":5,"t":3.04,"v":38.7},{"p":5,"t":3.057,"v":35.1},{"p":5,"t":3.073,"v":37.5},{"p":5,"t":3.088,"v":38.7},{"p":5,"t":3.105,"v":37.5},{"p":5,"t":3.122,"v":38.7},{"p":5,"t":3.137,"v":35.1},{"p":5,"t":3.153,"v":37.5},{"p":5,"t":3.17,"v":36.3},{"p":5,"t":3.181,"v":20.6},
{"p":5,"t":3.198,"v":29},{"p":5,"t":3.219,"v":25.3},{"p":5,"t":3.241,"v":26.6},{"p":5,"t":3.262,"v":24.1},{"p":5,"t":3.284,"v":27.8},{"p":5,"t":3.294,"v":25.3},{"p":5,"t":3.309,"v":37.7},{"p":5,"t":3.322,"v":34},{"p":5,"t":3.331,"v":46.4},{"p":5,"t":3.343,"v":31.5},{"p":5,"t":3.358,"v":36.5},{"p":5,"t":3.373,"v":29},{"p":5,"t":3.39,"v":16.6},{"p":5,"t":3.405,"v":29},{"p":5,"t":3.422,"v":34},{"p":5,"t":3.437,"v":29},{"p":5,"t":3.455,"v":30.3},{"p":5,"t":3.472,"v":27.8},{"p":5,"t":3.487,"v":26.6},{"p":5,"t":3.508,"v":29},{"p":5,"t":3.523,"v":36.5},{"p":5,"t":3.536,"v":40.2},{"p":5,"t":3.546,"v":47.6},{"p":5,"t":3.557,"v":29},{"p":5,"t":3.572,"v":9.2},{"p":5,"t":3.583,"v":31.5},{"p":5,"t":3.598,"v":50.1},{"p":5,"t":3.61,"v":43.9},{"p":5,"t":3.626,"v":29},{"p":5,"t":3.636,"v":39},{"p":5,"t":3.647,"v":48.9},{"p":5,"t":3.658,"v":51.4},{"p":5,"t":3.668,"v":24.1},{"p":5,"t":3.679,"v":36.5},{"p":5,"t":3.694,"v":40.2},{"p":5,"t":3.707,"v":35.2},{"p":5,"t":3.722,"v":36.5},{"p":5,"t":3.737,"v":31.5},{"p":5,"t":3.75,"v":30.3},{"p":5,"t":3.764,"v":34},{"p":5,"t":3.786,"v":36.5},{"p":5,"t":3.801,"v":37.7},{"p":5,"t":3.818,"v":41.4},{"p":5,"t":3.833,"v":37.7},{"p":5,"t":3.85,"v":35.2},{"p":5,"t":3.865,"v":34},{"p":5,"t":3.882,"v":31.5},{"p":5,"t":3.899,"v":34},{"p":5,"t":3.914,"v":36.5},{"p":5,"t":3.925,"v":16.6},{"p":5,"t":3.935,"v":35.2},{"p":5,"t":3.946,"v":19.1},{"p":5,"t":3.961,"v":29},{"p":5,"t":3.974,"v":31.5},{"p":5,"t":3.989,"v":14.1},{"p":5,"t":4.0,"v":36.5},{"p":5,"t":4.01,"v":29},{"p":5,"t":4.023,"v":48.9},{"p":5,"t":4.038,"v":61.3},{"p":5,"t":4.053,"v":48.9},{"p":5,"t":4.064,"v":11.7},{"p":5,"t":4.079,"v":46.4},{"p":5,"t":4.092,"v":41.4},{"p":5,"t":4.107,"v":51.4},{"p":5,"t":4.117,"v":39},{"p":5,"t":4.13,"v":46.4},{"p":5,"t":4.143,"v":29},{"p":5,"t":4.156,"v":48.9},{"p":5,"t":4.171,"v":39},{"p":5,"t":4.181,"v":51.4},{"p":5,"t":4.194,"v":31.5},{"p":5,"t":4.207,"v":41.4},{"p":5,"t":4.22,"v":46.4},{"p":5,"t":4.235,"v":34},{"p":5,"t":4.245,"v":40.2},{"p":5,"t":4.26,"v":30.3},{"p":5,"t":4.273,"v":32.8},{"p":5,"t":4.288,"v":36.5},{"p":5,"t":4.303,"v":39},{"p":5,"t":4.316,"v":31.5},{"p":5,"t":4.327,"v":41.4},{"p":5,"t":4.337,"v":29},{"p":5,"t":4.348,"v":43.9},{"p":5,"t":4.357,"v":51.4},{"p":5,"t":4.365,"v":36.5},{"p":5,"t":4.374,"v":53.8},{"p":5,"t":4.384,"v":34},{"p":5,"t":4.395,"v":51.4},{"p":5,"t":4.406,"v":31.5},{"p":5,"t":4.416,"v":46.4},{"p":5,"t":4.427,"v":39},{"p":5,"t":4.438,"v":29},{"p":5,"t":4.459,"v":26.6},{"p":5,"t":4.47,"v":21.6},{"p":5,"t":4.481,"v":19.1},{"p":5,"t":4.491,"v":24.1},{"p":5,"t":4.502,"v":21.6},{"p":5,"t":4.523,"v":26.6},{"p":5,"t":4.54,"v":29},{"p":5,"t":4.555,"v":31.5},{"p":5,"t":4.57,"v":34},{"p":5,"t":4.587,"v":32.8},{"p":5,"t":4.605,"v":36.5},{"p":5,"t":4.62,"v":39},{"p":5,"t":4.635,"v":42.7},{"p":5,"t":4.652,"v":47.6},{"p":5,"t":4.669,"v":46.4},{"p":5,"t":4.684,"v":46.4},{"p":5,"t":4.694,"v":43.9},{"p":5,"t":4.705,"v":26.6},{"p":5,"t":4.716,"v":45.2},{"p":5,"t":4.726,"v":36.5},{"p":5,"t":4.737,"v":48.9},{"p":5,"t":4.748,"v":29},{"p":5,"t":4.758,"v":11.7},{"p":5,"t":4.769,"v":36.5},{"p":5,"t":4.78,"v":45.2},{"p":5,"t":4.79,"v":36.5},{"p":5,"t":4.806,"v":26.6},{"p":5,"t":4.818,"v":31.5},{"p":5,"t":4.833,"v":24.1},{"p":5,"t":4.848,"v":19.1},{"p":5,"t":4.861,"v":29},{"p":5,"t":4.876,"v":36.5},{"p":5,"t":4.891,"v":42.7},{"p":5,"t":4.908,"v":48.9},{"p":5,"t":4.925,"v":51.4},{"p":5,"t":4.94,"v":61.3},{"p":5,"t":4.955,"v":56.3},{"p":5,"t":4.968,"v":58.8},{"p":5,"t":4.979,"v":53.8},{"p":5,"t":4.989,"v":71.2},{"p":5,"t":5.0,"v":51.4},{"p":5,"t":5.011,"v":84.9},{"p":5,"t":5.019,"v":58.8},{"p":5,"t":5.032,"v":66.3},{"p":5,"t":5.041,"v":78.7},{"p":5,"t":5.049,"v":53.8},{"p":5,"t":5.058,"v":87.3},{"p":5,"t":5.069,"v":50.1},{"p":5,"t":5.079,"v":71.2},{"p":5,"t":5.09,"v":88.6},{"p":5,"t":5.1,"v":58.8},{"p":5,"t":5.111,"v":93.5},{"p":5,"t":5.122,"v":56.3},{"p":5,"t":5.133,"v":96},{"p":5,"t":5.143,"v":71.2},{"p":5,"t":5.154,"v":93.5},{"p":5,"t":5.165,"v":63.8},{"p":5,"t":5.175,"v":96},{"p":5,"t":5.186,"v":61.3},{"p":5,"t":5.197,"v":93.5},{"p":5,"t":5.207,"v":104.7},{"p":5,"t":5.218,"v":81.1},{"p":5,"t":5.229,"v":93.5},{"p":5,"t":5.239,"v":86.1},{"p":5,"t":5.25,"v":91.1},{"p":5,"t":5.261,"v":83.6},{"p":5,"t":5.271,"v":89.8},{"p":5,"t":5.282,"v":86.1},{"p":5,"t":5.293,"v":84.9},{"p":5,"t":5.304,"v":91.1},{"p":5,"t":5.314,"v":78.7},{"p":5,"t":5.325,"v":88.6},{"p":5,"t":5.336,"v":71.2},{"p":5,"t":5.346,"v":51.4},{"p":5,"t":5.357,"v":81.1},{"p":5,"t":5.368,"v":66.3},{"p":5,"t":5.378,"v":76.2},{"p":5,"t":5.389,"v":61.3},{"p":5,"t":5.4,"v":68.7},{"p":5,"t":5.41,"v":58.8},{"p":5,"t":5.421,"v":63.8},{"p":5,"t":5.432,"v":60},{"p":5,"t":5.443,"v":61.3},{"p":5,"t":5.453,"v":53.8},{"p":5,"t":5.464,"v":51.4},{"p":5,"t":5.475,"v":48.9},{"p":5,"t":5.485,"v":39},{"p":5,"t":5.502,"v":39},{"p":5,"t":5.517,"v":43.9},{"p":5,"t":5.528,"v":51.4},{"p":5,"t":5.539,"v":56.3},{"p":5,"t":5.549,"v":60},{"p":5,"t":5.56,"v":39},{"p":5,"t":5.571,"v":48.9},{"p":5,"t":5.581,"v":62.5},{"p":5,"t":5.592,"v":51.4},{"p":5,"t":5.603,"v":39},{"p":5,"t":5.614,"v":68.7},{"p":5,"t":5.624,"v":41.4},{"p":5,"t":5.635,"v":56.3},{"p":5,"t":5.646,"v":66.3},{"p":5,"t":5.656,"v":36.5},{"p":5,"t":5.667,"v":61.3},{"p":5,"t":5.678,"v":48.9},{"p":5,"t":5.688,"v":39},{"p":5,"t":5.699,"v":58.8},{"p":5,"t":5.71,"v":39},{"p":5,"t":5.72,"v":65},{"p":5,"t":5.731,"v":68.7},{"p":5,"t":5.742,"v":48.9},{"p":5,"t":5.752,"v":55.1},{"p":5,"t":5.763,"v":46.4},{"p":5,"t":5.774,"v":63.8},{"p":5,"t":5.785,"v":41.4},{"p":5,"t":5.795,"v":61.3},{"p":5,"t":5.806,"v":61.3},{"p":5,"t":5.817,"v":48.9},{"p":5,"t":5.827,"v":53.8},{"p":5,"t":5.838,"v":43.9},{"p":5,"t":5.849,"v":46.4},{"p":5,"t":5.859,"v":48.9},{"p":5,"t":5.87,"v":51.4},{"p":5,"t":5.881,"v":56.3},{"p":5,"t":5.891,"v":46.4},{"p":5,"t":5.902,"v":34},{"p":5,"t":5.913,"v":53.8},{"p":5,"t":5.924,"v":39},{"p":5,"t":5.934,"v":61.3},{"p":5,"t":5.945,"v":31.5},{"p":5,"t":5.956,"v":48.9},{"p":5,"t":5.966,"v":61.3},{"p":5,"t":5.977,"v":56.3},{"p":5,"t":5.988,"v":31.5},{"p":5,"t":5.998,"v":58.8},{"p":5,"t":6.009,"v":41.4},{"p":5,"t":6.02,"v":43.9},{"p":5,"t":6.03,"v":26.6},{"p":5,"t":6.041,"v":70},{"p":5,"t":6.052,"v":71.2},{"p":5,"t":6.062,"v":53.8},{"p":5,"t":6.073,"v":36.5},{"p":5,"t":6.084,"v":24.1},{"p":5,"t":6.095,"v":66.3},{"p":5,"t":6.105,"v":53.8},{"p":5,"t":6.116,"v":39},{"p":5,"t":6.127,"v":43.9},{"p":5,"t":6.137,"v":46.4},{"p":5,"t":6.148,"v":41.4},{"p":5,"t":6.159,"v":46.4},{"p":5,"t":6.169,"v":36.5},{"p":5,"t":6.18,"v":46.4},{"p":5,"t":6.191,"v":41.4},{"p":5,"t":6.201,"v":46.4},{"p":5,"t":6.212,"v":24.1},{"p":5,"t":6.223,"v":53.8},{"p":5,"t":6.234,"v":71.2},{"p":5,"t":6.244,"v":63.8},{"p":5,"t":6.255,"v":48.9},{"p":5,"t":6.266,"v":36.5},{"p":5,"t":6.276,"v":41.4},{"p":5,"t":6.287,"v":51.4},{"p":5,"t":6.298,"v":39},{"p":5,"t":6.308,"v":48.9},{"p":5,"t":6.319,"v":43.9},{"p":5,"t":6.33,"v":50.1},{"p":5,"t":6.34,"v":43.9},{"p":5,"t":6.351,"v":46.4},{"p":5,"t":6.362,"v":39},{"p":5,"t":6.383,"v":39},{"p":5,"t":6.404,"v":39},{"p":5,"t":6.426,"v":42.7},{"p":5,"t":6.436,"v":39},{"p":5,"t":6.447,"v":46.4},{"p":5,"t":6.458,"v":47.6},{"p":5,"t":6.469,"v":36.5},{"p":5,"t":6.479,"v":41.4},{"p":5,"t":6.49,"v":50.1},
{"p":6,"t":0.003,"v":5.6},{"p":6,"t":0.02,"v":3.6},{"p":6,"t":0.042,"v":2.9},{"p":6,"t":0.063,"v":4.1},{"p":6,"t":0.085,"v":3.1},{"p":6,"t":0.107,"v":7.3},{"p":6,"t":0.129,"v":6.5},{"p":6,"t":0.15,"v":1.7},{"p":6,"t":0.172,"v":3.1},{"p":6,"t":0.194,"v":1.7},{"p":6,"t":0.216,"v":2.4},{"p":6,"t":0.237,"v":1.7},{"p":6,"t":0.259,"v":2.4},{"p":6,"t":0.281,"v":1.2},{"p":6,"t":0.313,"v":2.4},{"p":6,"t":0.328,"v":5.6},{"p":6,"t":0.35,"v":8.5},{"p":6,"t":0.368,"v":5.6},{"p":6,"t":0.385,"v":1.7},{"p":6,"t":0.411,"v":0.7},{"p":6,"t":0.476,"v":0.7},{"p":6,"t":0.498,"v":1.7},{"p":6,"t":0.52,"v":3.6},{"p":6,"t":0.552,"v":6.1},{"p":6,"t":0.585,"v":6.5},{"p":6,"t":0.617,"v":2.4},{"p":6,"t":0.65,"v":3.6},{"p":6,"t":0.683,"v":1.7},{"p":6,"t":0.715,"v":3.6},{"p":6,"t":0.748,"v":4.1},{"p":6,"t":0.769,"v":3.1},{"p":6,"t":0.802,"v":3.6},{"p":6,"t":0.824,"v":2.4},{"p":6,"t":0.841,"v":20.1},{"p":6,"t":0.856,"v":2.4},{"p":6,"t":0.878,"v":1.7},{"p":6,"t":0.911,"v":1.2},{"p":6,"t":0.943,"v":1.2},{"p":6,"t":0.965,"v":4.4},{"p":6,"t":0.987,"v":1.7},{"p":6,"t":1.019,"v":2.4},{"p":6,"t":1.052,"v":2.9},{"p":6,"t":1.074,"v":2.4},{"p":6,"t":1.106,"v":3.6},{"p":6,"t":1.128,"v":1.7},{"p":6,"t":1.15,"v":3.1},{"p":6,"t":1.171,"v":1.7},{"p":6,"t":1.204,"v":0.7},{"p":6,"t":1.291,"v":0.7},{"p":6,"t":1.345,"v":1.2},{"p":6,"t":1.367,"v":4.1},{"p":6,"t":1.4,"v":3.6},{"p":6,"t":1.421,"v":3.1},{"p":6,"t":1.454,"v":2.4},{"p":6,"t":1.486,"v":3.6},{"p":6,"t":1.508,"v":6.1},{"p":6,"t":1.541,"v":2.4},{"p":6,"t":1.563,"v":5.6},{"p":6,"t":1.584,"v":3.6},{"p":6,"t":1.606,"v":5.6},{"p":6,"t":1.639,"v":2.4},{"p":6,"t":1.66,"v":1.7},{"p":6,"t":1.693,"v":2.4},{"p":6,"t":1.714,"v":6.5},{"p":6,"t":1.747,"v":6.1},{"p":6,"t":1.78,"v":4.8},{"p":6,"t":1.812,"v":2.4},{"p":6,"t":1.834,"v":3.6},{"p":6,"t":1.866,"v":5.3},{"p":6,"t":1.899,"v":3.6},{"p":6,"t":1.932,"v":4.8},{"p":6,"t":1.954,"v":2.4},{"p":6,"t":1.986,"v":3.6},{"p":6,"t":2.008,"v":5.3},{"p":6,"t":2.03,"v":2.4},{"p":6,"t":2.051,"v":3.6},{"p":6,"t":2.073,"v":4.4},{"p":6,"t":2.088,"v":6.5},{"p":6,"t":2.106,"v":3.6},{"p":6,"t":2.123,"v":6.5},{"p":6,"t":2.138,"v":3.6},{"p":6,"t":2.16,"v":4.8},{"p":6,"t":2.182,"v":2.4},{"p":6,"t":2.214,"v":3.6},{"p":6,"t":2.236,"v":2.4},{"p":6,"t":2.268,"v":4.4},{"p":6,"t":2.29,"v":6.5},{"p":6,"t":2.312,"v":3.6},{"p":6,"t":2.334,"v":4.4},{"p":6,"t":2.366,"v":5.6},{"p":6,"t":2.399,"v":4.4},{"p":6,"t":2.421,"v":3.6},{"p":6,"t":2.442,"v":8.5},{"p":6,"t":2.464,"v":2.4},{"p":6,"t":2.486,"v":1.7},{"p":6,"t":2.518,"v":2.9},{"p":6,"t":2.551,"v":3.6},{"p":6,"t":2.583,"v":3.1},{"p":6,"t":2.616,"v":3.6},{"p":6,"t":2.649,"v":2.4},{"p":6,"t":2.681,"v":5.3},{"p":6,"t":2.703,"v":2.4},{"p":6,"t":2.725,"v":3.6},{"p":6,"t":2.747,"v":3.1},{"p":6,"t":2.768,"v":3.6},{"p":6,"t":2.79,"v":26.6},{"p":6,"t":2.805,"v":6.1},{"p":6,"t":2.823,"v":3.1},{"p":6,"t":2.84,"v":26.6},{"p":6,"t":2.855,"v":3.6},{"p":6,"t":2.877,"v":3.1},{"p":6,"t":2.898,"v":6.1},{"p":6,"t":2.92,"v":12.1},{"p":6,"t":2.942,"v":8.5},{"p":6,"t":2.964,"v":6.1},{"p":6,"t":2.985,"v":3.6},{"p":6,"t":3.018,"v":1.7},{"p":6,"t":3.051,"v":2.4},{"p":6,"t":3.083,"v":1.7},{"p":6,"t":3.116,"v":3.6},{"p":6,"t":3.137,"v":2.4},{"p":6,"t":3.159,"v":3.6},{"p":6,"t":3.181,"v":1.7},
{"p":6,"t":3.198,"v":1},{"p":6,"t":3.234,"v":2},{"p":6,"t":3.269,"v":2},{"p":6,"t":3.305,"v":1.3},{"p":6,"t":3.34,"v":2},{"p":6,"t":3.376,"v":0.8},{"p":6,"t":3.4,"v":0},{"p":6,"t":3.423,"v":1.3},{"p":6,"t":3.447,"v":0.5},{"p":6,"t":3.483,"v":3},{"p":6,"t":3.506,"v":0.8},{"p":6,"t":3.53,"v":0},{"p":6,"t":3.549,"v":1.3},{"p":6,"t":3.566,"v":25.3},{"p":6,"t":3.582,"v":20.2},{"p":6,"t":3.601,"v":5},{"p":6,"t":3.625,"v":1.3},{"p":6,"t":3.661,"v":2},{"p":6,"t":3.696,"v":3.8},{"p":6,"t":3.72,"v":0.8},{"p":6,"t":3.756,"v":2},{"p":6,"t":3.791,"v":0},{"p":6,"t":3.839,"v":0.8},{"p":6,"t":3.886,"v":0},{"p":6,"t":3.91,"v":2.5},{"p":6,"t":3.957,"v":0},{"p":6,"t":3.993,"v":2.5},{"p":6,"t":4.016,"v":0},{"p":6,"t":4.088,"v":0},{"p":6,"t":4.111,"v":4.5},{"p":6,"t":4.135,"v":2},{"p":6,"t":4.159,"v":3},{"p":6,"t":4.194,"v":4.5},{"p":6,"t":4.218,"v":0.8},{"p":6,"t":4.254,"v":1.3},{"p":6,"t":4.289,"v":0},{"p":6,"t":4.337,"v":0},{"p":6,"t":4.372,"v":15.2},{"p":6,"t":4.396,"v":37.9},{"p":6,"t":4.42,"v":15.2},{"p":6,"t":4.432,"v":0},{"p":6,"t":4.455,"v":2},{"p":6,"t":4.491,"v":0.8},{"p":6,"t":4.527,"v":2.5},{"p":6,"t":4.555,"v":0},{"p":6,"t":4.574,"v":35.4},{"p":6,"t":4.591,"v":41.7},{"p":6,"t":4.61,"v":5},{"p":6,"t":4.633,"v":5.6},{"p":6,"t":4.657,"v":2.5},{"p":6,"t":4.681,"v":3.8},{"p":6,"t":4.705,"v":0.8},{"p":6,"t":4.724,"v":37.9},{"p":6,"t":4.74,"v":41.7},{"p":6,"t":4.752,"v":2.5},{"p":6,"t":4.776,"v":2},{"p":6,"t":4.799,"v":1.3},{"p":6,"t":4.835,"v":1.3},{"p":6,"t":4.859,"v":2},{"p":6,"t":4.882,"v":0.5},{"p":6,"t":4.906,"v":3},{"p":6,"t":4.93,"v":0},{"p":6,"t":4.949,"v":3.8},{"p":6,"t":4.965,"v":15.2},{"p":6,"t":4.989,"v":10.1},{"p":6,"t":5.006,"v":5},{"p":6,"t":5.03,"v":20.2},{"p":6,"t":5.049,"v":10.1},{"p":6,"t":5.072,"v":3.8},{"p":6,"t":5.096,"v":7.1},{"p":6,"t":5.12,"v":3.8},{"p":6,"t":5.143,"v":3},{"p":6,"t":5.167,"v":4.5},{"p":6,"t":5.191,"v":2},{"p":6,"t":5.215,"v":3.8},{"p":6,"t":5.238,"v":1.3},{"p":6,"t":5.262,"v":2},{"p":6,"t":5.286,"v":0},{"p":6,"t":5.314,"v":15.2},{"p":6,"t":5.328,"v":82.1},{"p":6,"t":5.345,"v":80.8},{"p":6,"t":5.362,"v":2.5},{"p":6,"t":5.385,"v":0},{"p":6,"t":5.409,"v":1.3},{"p":6,"t":5.44,"v":2.5},{"p":6,"t":5.464,"v":0},{"p":6,"t":5.487,"v":1.3},{"p":6,"t":5.511,"v":6.3},{"p":6,"t":5.535,"v":5},{"p":6,"t":5.559,"v":2},{"p":6,"t":5.582,"v":0.5},{"p":6,"t":5.606,"v":1.3},{"p":6,"t":5.642,"v":1.3},{"p":6,"t":5.677,"v":0},{"p":6,"t":5.713,"v":0.5},{"p":6,"t":5.737,"v":5},{"p":6,"t":5.76,"v":0},{"p":6,"t":5.796,"v":0},{"p":6,"t":5.82,"v":8.8},{"p":6,"t":5.843,"v":0},{"p":6,"t":5.867,"v":0},{"p":6,"t":5.903,"v":0.8},{"p":6,"t":5.95,"v":6.3},{"p":6,"t":5.969,"v":0},{"p":6,"t":5.998,"v":1.3},{"p":6,"t":6.016,"v":24},{"p":6,"t":6.033,"v":21.5},{"p":6,"t":6.057,"v":2.5},{"p":6,"t":6.08,"v":0},{"p":6,"t":6.104,"v":5},{"p":6,"t":6.14,"v":18.9},{"p":6,"t":6.164,"v":2.5},{"p":6,"t":6.187,"v":3.8},{"p":6,"t":6.211,"v":3},{"p":6,"t":6.235,"v":5},{"p":6,"t":6.27,"v":3.8},{"p":6,"t":6.294,"v":6.3},{"p":6,"t":6.306,"v":8.8},{"p":6,"t":6.33,"v":3.8},{"p":6,"t":6.349,"v":9.6},{"p":6,"t":6.372,"v":2.5},{"p":6,"t":6.396,"v":0},{"p":6,"t":6.413,"v":48},{"p":6,"t":6.429,"v":85.9},{"p":6,"t":6.443,"v":104.8},{"p":6,"t":6.46,"v":0},{"p":6,"t":6.467,"v":65.7},{"p":6,"t":6.482,"v":18.9},{"p":6,"t":6.491,"v":35.4},{"p":6,"t":6.5,"v":75.8}
]},
"data":{"name":"d"},
"facet":{"row":{"field":"p","type":"ordinal","header":null}},
"spacing":{"row":95},
"bounds":"flush",
"resolve":{"axis":{"x":"independent"}},
"spec":{
"width":1184,"height":139,
"layer":[
{"transform":[{"filter":"isValid(datum.v)"}],
 "mark":{"type":"line","color":"#1a1a1a","strokeWidth":1.1,"interpolate":"linear"},
 "encoding":{
  "x":{"field":"t","type":"quantitative","scale":{"domain":[0,6.5],"nice":false,"zero":false},
   "axis":{"title":null,"grid":false,"tickCount":300,
    "values":[0.05,0.1,0.15,0.2,0.25,0.3,0.35,0.4,0.45,0.5,0.55,0.6,0.65,0.7,0.75,0.8,0.85,0.9,0.95,1,1.05,1.1,1.15,1.2,1.25,1.3,1.35,1.4,1.45,1.5,1.55,1.6,1.65,1.7,1.75,1.8,1.85,1.9,1.95,2,2.05,2.1,2.15,2.2,2.25,2.3,2.35,2.4,2.45,2.5,2.55,2.6,2.65,2.7,2.75,2.8,2.85,2.9,2.95,3,3.05,3.1,3.15,3.2,3.25,3.3,3.35,3.4,3.45,3.5,3.55,3.6,3.65,3.7,3.75,3.8,3.85,3.9,3.95,4,4.05,4.1,4.15,4.2,4.25,4.3,4.35,4.4,4.45,4.5,4.55,4.6,4.65,4.7,4.75,4.8,4.85,4.9,4.95,5,5.05,5.1,5.15,5.2,5.25,5.3,5.35,5.4,5.45,5.5,5.55,5.6,5.65,5.7,5.75,5.8,5.85,5.9,5.95,6,6.05,6.1,6.15,6.2,6.25,6.3,6.35,6.4,6.45,6.5],
    "labelExpr":"abs(datum.value*2-round(datum.value*2))<0.001 ? format(datum.value,'.2f') : ''",
    "tickSize":{"condition":{"test":"abs(datum.value*4-round(datum.value*4))<0.001","value":10},"value":5},
    "labelFontSize":22,"labelColor":"#1a1a1a","labelPadding":3,"labelOverlap":false,"labelFlush":false,"labelBound":false,
    "domainColor":"#1a1a1a","tickColor":"#1a1a1a","domainWidth":1,"tickWidth":1}},
  "y":{"field":"v","type":"quantitative","scale":{"domain":[0,100],"nice":false},
   "axis":{"title":"%","grid":false,"tickCount":50,"values":[0,10,20,30,40,50,60,70,80,90,100],
    "labelExpr":"datum.value==0||datum.value==100 ? datum.label : ''",
    "tickSize":{"condition":{"test":"datum.value==0||datum.value==100","value":12},"value":6},
    "labelFontSize":22,"labelColor":"#1a1a1a","labelPadding":2,"labelOverlap":false,"labelFlush":false,"labelBound":false,
    "domainColor":"#1a1a1a","tickColor":"#1a1a1a",
    "titleFontSize":22,"titleFontWeight":"normal","titleColor":"#1a1a1a","titleAngle":270,"titleX":-20,"titleY":69.5,"titleAlign":"center","titleBaseline":"middle"}}
 }},
{"transform":[{"filter":"isValid(datum.name)"}],"mark":{"type":"text","font":"Liberation Sans","fontWeight":"bold","fontSize":23,"align":"center","baseline":"middle","color":"#1a1a1a"},"encoding":{"x":{"datum":0.697},"y":{"datum":76},"text":{"field":"name"}}},
{"transform":[{"filter":"isValid(datum.formula)"}],"mark":{"type":"text","font":"Liberation Sans","fontWeight":"bold","fontSize":23,"align":"right","baseline":"middle","color":"#1a1a1a"},"encoding":{"x":{"datum":3.184},"y":{"datum":76},"text":{"field":"formula"}}},
{"transform":[{"filter":"isValid(datum.name)"}],"mark":{"type":"text","text":"⟶","font":"Liberation Sans","fontSize":24,"align":"center","baseline":"middle","color":"#1a1a1a"},"encoding":{"x":{"datum":3.382},"y":{"datum":77}}},
{"transform":[{"filter":"isValid(datum.product)"}],"mark":{"type":"text","font":"Liberation Sans","fontWeight":"bold","fontSize":23,"align":"left","baseline":"middle","color":"#1a1a1a"},"encoding":{"x":{"datum":3.563},"y":{"datum":76},"text":{"field":"product"}}},
{"transform":[{"filter":"isValid(datum.transition)"}],"mark":{"type":"text","font":"Liberation Sans","fontWeight":"bold","fontSize":20,"align":"right","baseline":"middle","color":"#1a1a1a"},"encoding":{"x":{"datum":6.89},"y":{"datum":114},"text":{"field":"transition"}}},
{"transform":[{"filter":"isValid(datum.intensity)"}],"mark":{"type":"text","font":"Liberation Sans","fontSize":20,"align":"right","baseline":"middle","color":"#1a1a1a"},"encoding":{"x":{"datum":6.89},"y":{"datum":94},"text":{"field":"intensity"}}},
{"transform":[{"filter":"isValid(datum.hdr1)"}],"mark":{"type":"text","font":"Liberation Sans","fontWeight":"bold","fontSize":24,"align":"left","baseline":"middle","color":"#1a1a1a"},"encoding":{"x":{"datum":-0.428},"y":{"datum":151},"text":{"field":"hdr1"}}},
{"transform":[{"filter":"isValid(datum.hdr2)"}],"mark":{"type":"text","font":"Liberation Sans","fontWeight":"bold","fontSize":24,"align":"left","baseline":"middle","color":"#1a1a1a"},"encoding":{"x":{"datum":2.465},"y":{"datum":151},"text":{"field":"hdr2"}}},
{"transform":[{"filter":"isValid(datum.hdr3)"}],"mark":{"type":"text","font":"Liberation Sans","fontWeight":"bold","fontSize":24,"align":"left","baseline":"middle","color":"#1a1a1a"},"encoding":{"x":{"datum":3.481},"y":{"datum":151},"text":{"field":"hdr3"}}},
{"transform":[{"filter":"isValid(datum.hdr4)"}],"mark":{"type":"text","font":"Liberation Sans","fontSize":24,"align":"left","baseline":"middle","color":"#1a1a1a"},"encoding":{"x":{"datum":-0.428},"y":{"datum":130},"text":{"field":"hdr4"}}},
{"transform":[{"filter":"isValid(datum.xlab)"}],"mark":{"type":"text","font":"Liberation Sans","fontSize":22,"align":"left","baseline":"middle","color":"#1a1a1a"},"encoding":{"x":{"datum":6.58},"y":{"datum":3},"text":{"field":"xlab"}}},
{"transform":[{"filter":"datum.border==1"}],"mark":{"type":"rect","fillOpacity":0,"stroke":"#555555","strokeWidth":1.2,"clip":false},"encoding":{"x":{"datum":-0.467},"x2":{"datum":6.907},"y":{"datum":169},"y2":{"datum":-865}}}
]}
}
